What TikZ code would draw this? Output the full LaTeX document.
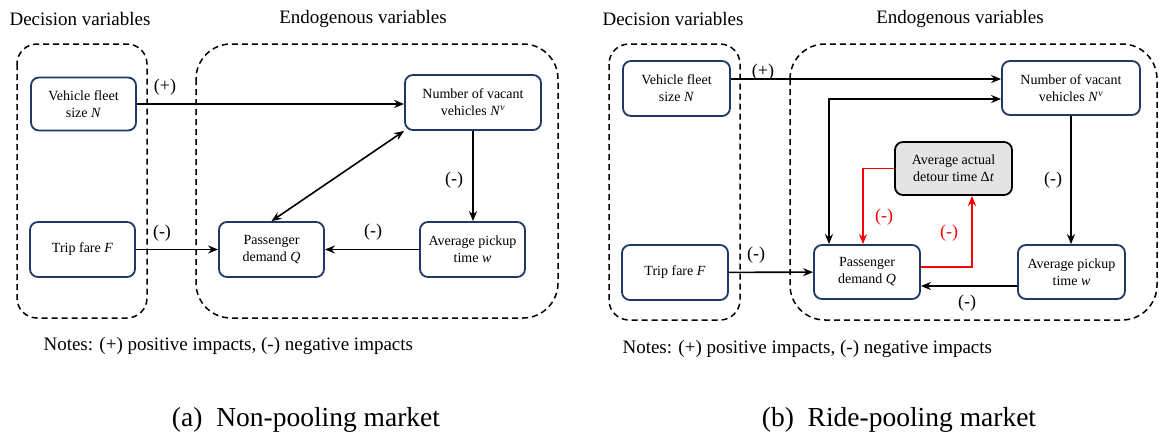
\documentclass[tikz,border=0pt]{standalone}
\usepackage{fontspec}
\setmainfont{Liberation Serif}
\usetikzlibrary{arrows.meta}
\definecolor{boxblue}{RGB}{31,56,100}
\definecolor{detourgray}{RGB}{228,228,228}
\tikzset{
  var/.style={draw=boxblue, line width=1.8pt, rounded corners=8pt, fill=white, align=center, inner sep=2pt, font=\fontsize{14}{17}\selectfont},
  group/.style={draw=black, line width=1.5pt, dash pattern=on 6pt off 4pt},
  link/.style={line width=1.6pt, -{Stealth[length=10pt,width=8pt]}},
  sign/.style={font=\fontsize{18}{20}\selectfont},
  head/.style={font=\fontsize{19}{22}\selectfont},
  notes/.style={anchor=west, font=\fontsize{19}{22}\selectfont},
  subcap/.style={font=\fontsize{27.5}{30}\selectfont}
}

\begin{document}
\begin{tikzpicture}[x=1pt,y=-1pt]
  \useasboundingbox (0,0) rectangle (1159,440);
  % (a) non-pooling market
  \node[head] (decA)  at ( 80,19) {Decision variables};
  \node[head] (endoA) at (363,19) {Endogenous variables};
  \draw[group, rounded corners=20pt] ( 17,44) rectangle (147,318);
  \draw[group, rounded corners=35pt] (196,44) rectangle (558,318);
  \node[var, minimum width=105pt, minimum height=53pt] (fleetA)  at ( 83.5,104) {Vehicle fleet\\size \textit{N}};
  \node[var, minimum width=105pt, minimum height=55pt] (fareA)   at ( 82.5,249.5) {Trip fare \textit{F}};
  \node[var, minimum width=136pt, minimum height=55pt] (vacantA) at (473,102.5) {Number of vacant\\vehicles \textit{N}\textsuperscript{\textit{ν}}};
  \node[var, minimum width=105pt, minimum height=55pt] (demandA) at (271.5,249.5) {Passenger\\demand \textit{Q}};
  \node[var, minimum width=105pt, minimum height=55pt] (pickupA) at (472.5,249.5) {Average pickup\\time \textit{w}};
  \draw[link] (fleetA.east) -- (fleetA.east -| vacantA.west);
  \draw[link] (fareA) -- (demandA);
  \draw[link] (pickupA) -- (demandA);
  \draw[link] (vacantA.south) -- (vacantA.south |- pickupA.north);
  \draw[link, {Stealth[length=10pt,width=8pt]}-{Stealth[length=10pt,width=8pt]}] (demandA.north) -- (vacantA.south west);
  \node[sign] (plusA)  at (165, 87) {(+)};
  \node[sign] (fareSA) at (162,233) {(-)};
  \node[sign] (pickSA) at (373,232) {(-)};
  \node[sign] (vacSA)  at (454,180) {(-)};
  \node[notes] (notesA) at (40,346) {Notes: (+) positive impacts, (-) negative impacts};
  \node[subcap] (capA) at (306,420) {(a)\hspace{0.5em}Non-pooling market};
  % (b) ride-pooling market
  \node[head] (decB)  at (673,19) {Decision variables};
  \node[head] (endoB) at (960,19) {Endogenous variables};
  \draw[group, rounded corners=20pt] (609,44) rectangle (740,320);
  \draw[group, rounded corners=35pt] (790,44) rectangle (1157,320);
  \node[var, minimum width=107pt, minimum height=55pt] (fleetB)  at ( 676.5,88.5) {Vehicle fleet\\size \textit{N}};
  \node[var, minimum width=106pt, minimum height=55pt] (fareB)   at ( 675,272.5) {Trip fare \textit{F}};
  \node[var, minimum width=138pt, minimum height=54pt] (vacantB) at (1071,88) {Number of vacant\\vehicles \textit{N}\textsuperscript{\textit{ν}}};
  \node[var, minimum width=106pt, minimum height=54pt] (demandB) at ( 867,272) {Passenger\\demand \textit{Q}};
  \node[var, minimum width=107pt, minimum height=54pt] (pickupB) at (1071.5,272) {Average pickup\\time \textit{w}};
  \node[var, draw=black, fill=detourgray, minimum width=117pt, minimum height=53pt] (detourB) at (953.5,168.5) {Average actual\\detour time Δ\textit{t}};
  \draw[link] ([yshift=9.5pt]fleetB.east) -- ([yshift=9.5pt]fleetB.east -| vacantB.west);
  \draw[link, {Stealth[length=10pt,width=8pt]}-{Stealth[length=10pt,width=8pt]}] ([xshift=-38pt]demandB.north) |- ([yshift=-11pt]vacantB.west);
  \draw[link] (vacantB.south) -- (vacantB.south |- pickupB.north);
  \draw[link] (fareB) -- (demandB);
  \draw[link] ([yshift=-14pt]pickupB.west) -- ([yshift=-14pt]pickupB.west -| demandB.east);
  \draw[link, red] (detourB.west) -| ([xshift=-4pt]demandB.north);
  \draw[link, red] ([yshift=5pt]demandB.east) -| ([xshift=18.5pt]detourB.south);
  \node[sign] (plusB)   at ( 763, 72) {(+)};
  \node[sign] (fareSB)  at ( 756,255) {(-)};
  \node[sign] (pickSB)  at ( 967,303) {(-)};
  \node[sign] (vacSB)   at (1053,180) {(-)};
  \node[sign, red] (detSB1) at (884,217) {(-)};
  \node[sign, red] (detSB2) at (949,233) {(-)};
  \node[notes] (notesB) at (619,349) {Notes: (+) positive impacts, (-) negative impacts};
  \node[subcap] (capB) at (899,420) {(b)\hspace{0.5em}Ride-pooling market};
\end{tikzpicture}
\end{document}
